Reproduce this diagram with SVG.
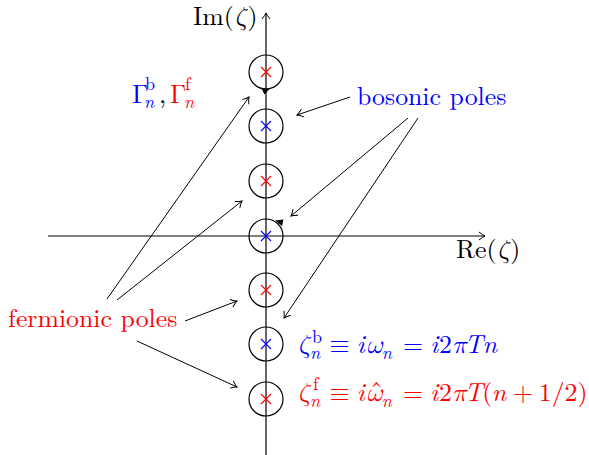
<svg xmlns="http://www.w3.org/2000/svg" width="589" height="455" viewBox="0 0 589 455" font-family="Latin Modern Roman, Liberation Serif, serif" font-size="25.8">
<style>
.it{font-style:italic}
.gr{font-style:italic}
.sm{font-size:18px}
.b{fill:#0000ff}
.r{fill:#ff0000}
.ax{stroke:#000;stroke-width:1.2;fill:none}
.ar{stroke:#000;stroke-width:1;fill:none}
.c{stroke:#000;stroke-width:1.2;fill:none}
.xb{stroke:#0000ff;stroke-width:1.1}
.xr{stroke:#ff0000;stroke-width:1.1}
</style>
<defs>
<marker id="ah" markerUnits="userSpaceOnUse" markerWidth="12" markerHeight="12" viewBox="-7 -6 8 12" refX="0" refY="0" orient="auto">
<path d="M -6 -4 Q -2 -0.8 0 0 Q -2 0.8 -6 4" fill="none" stroke="#000" stroke-width="1"/>
</marker>
</defs>

<g id="axes">
<line class="ax" x1="266" y1="455" x2="266" y2="13" marker-end="url(#ah)"/>
<line class="ax" x1="48" y1="236" x2="485" y2="236" marker-end="url(#ah)"/>
<text x="193" y="25">Im(<tspan class="gr" font-family="Latin Modern Math, Latin Modern Roman, Liberation Serif, serif">ζ</tspan>)</text>
<text x="456" y="258">Re(<tspan class="gr" font-family="Latin Modern Math, Latin Modern Roman, Liberation Serif, serif">ζ</tspan>)</text>
</g>

<g id="pole-f1"><circle class="c" cx="266" cy="72" r="17"/><path class="xr" d="M261 67L271 77M271 67L261 77"/></g>
<g id="pole-b1"><circle class="c" cx="266" cy="126" r="17"/><path class="xb" d="M261 121L271 131M271 121L261 131"/></g>
<g id="pole-f2"><circle class="c" cx="266" cy="181" r="17"/><path class="xr" d="M261 176L271 186M271 176L261 186"/></g>
<g id="pole-b0"><circle class="c" cx="266" cy="236" r="17"/><path class="xb" d="M261 231L271 241M271 231L261 241"/></g>
<g id="pole-f3"><circle class="c" cx="266" cy="290" r="17"/><path class="xr" d="M261 285L271 295M271 285L261 295"/></g>
<g id="pole-b2"><circle class="c" cx="266" cy="344" r="17"/><path class="xb" d="M261 339L271 349M271 339L261 349"/></g>
<g id="pole-f4"><circle class="c" cx="266" cy="399" r="17"/><path class="xr" d="M261 394L271 404M271 394L261 404"/></g>

<g id="orientation">
<polygon points="261.5,88.5 270,88.5 264.5,94.5" fill="#000"/>
<polygon points="275,220.5 283.5,219.5 282,226" fill="#000"/>
</g>

<g id="connectors">
<line class="ar" x1="107" y1="299" x2="249" y2="97" marker-end="url(#ah)"/>
<line class="ar" x1="117" y1="300" x2="242" y2="201" marker-end="url(#ah)"/>
<line class="ar" x1="185" y1="321" x2="237" y2="301" marker-end="url(#ah)"/>
<line class="ar" x1="137" y1="341" x2="237" y2="387" marker-end="url(#ah)"/>
<line class="ar" x1="350" y1="97" x2="297" y2="115" marker-end="url(#ah)"/>
<line class="ar" x1="408" y1="118" x2="291" y2="216" marker-end="url(#ah)"/>
<line class="ar" x1="418" y1="118" x2="284" y2="318" marker-end="url(#ah)"/>
</g>

<g id="label-bosonic"><text class="b" x="357" y="105">bosonic poles</text></g>
<g id="label-fermionic"><text class="r" x="8" y="327">fermionic poles</text></g>

<g id="label-gamma">
<text class="b" x="132" y="103" font-family="Latin Modern Math, Latin Modern Roman, Liberation Serif, serif">Γ</text>
<text class="b sm" x="145" y="90">b</text>
<text class="b sm it" x="144" y="108">n</text>
<text x="159" y="103">,</text>
<text class="r" x="170" y="103" font-family="Latin Modern Math, Latin Modern Roman, Liberation Serif, serif">Γ</text>
<text class="r sm" x="185" y="90">f</text>
<text class="r sm it" x="184" y="108">n</text>
</g>

<g id="eq-boson">
<text class="b gr" x="297" y="353" font-family="Latin Modern Math, Latin Modern Roman, Liberation Serif, serif">ζ</text>
<text class="b sm" x="312" y="343">b</text>
<text class="b sm it" x="310" y="359">n</text>
<text class="b" x="329.6" y="353" font-family="Latin Modern Math, Latin Modern Roman, Liberation Serif, serif">≡</text>
<text class="b it" x="356.8" y="353">i</text>
<text class="b gr" x="365.7" y="353" font-family="Latin Modern Math, Latin Modern Roman, Liberation Serif, serif">ω</text>
<text class="b sm it" x="381.8" y="359">n</text>
<text class="b" x="403" y="353">=</text>
<text class="b it" x="430.2" y="353">i</text>
<text class="b" x="439.1" y="353">2</text>
<text class="b gr" x="452" y="353" font-family="Latin Modern Math, Latin Modern Roman, Liberation Serif, serif">π</text>
<text class="b it" x="464.5" y="353">T</text>
<text class="b it" x="482.5" y="353">n</text>
</g>

<g id="eq-fermion">
<text class="r gr" x="297" y="401" font-family="Latin Modern Math, Latin Modern Roman, Liberation Serif, serif">ζ</text>
<text class="r sm" x="313" y="390">f</text>
<text class="r sm it" x="310" y="407">n</text>
<text class="r" x="329.6" y="401" font-family="Latin Modern Math, Latin Modern Roman, Liberation Serif, serif">≡</text>
<text class="r it" x="356.8" y="401">i</text>
<text class="r gr" x="365.7" y="401" font-family="Latin Modern Math, Latin Modern Roman, Liberation Serif, serif">ω</text>
<text class="r" x="370" y="400">ˆ</text>
<text class="r sm it" x="381.8" y="407">n</text>
<text class="r" x="403" y="401">=</text>
<text class="r it" x="430.2" y="401">i</text>
<text class="r" x="439.1" y="401">2</text>
<text class="r gr" x="452" y="401" font-family="Latin Modern Math, Latin Modern Roman, Liberation Serif, serif">π</text>
<text class="r it" x="464.5" y="401">T</text>
<text class="r" x="482.3" y="401">(</text>
<text class="r it" x="491.8" y="401">n</text>
<text class="r" x="513" y="401">+</text>
<text class="r" x="538.8" y="401">1/2</text>
<text class="r" x="577.5" y="401">)</text>
</g>
</svg>
